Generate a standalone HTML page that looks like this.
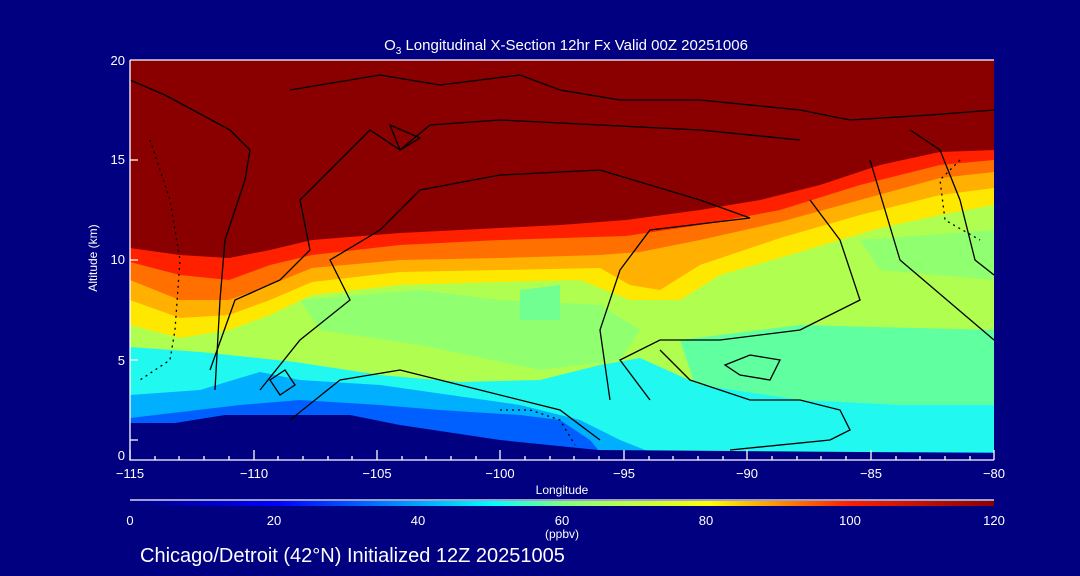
<!DOCTYPE html>
<html><head><style>
body{margin:0;background:#000080;}
svg{display:block}
text{font-family:"Liberation Sans",sans-serif;fill:#fff}
</style></head><body>
<svg width="1080" height="576" viewBox="0 0 1080 576" xmlns="http://www.w3.org/2000/svg">
<defs>
<linearGradient id="cb" x1="0" x2="1" y1="0" y2="0">
<stop offset="0" stop-color="#000080"/>
<stop offset="0.17" stop-color="#0000ff"/>
<stop offset="0.33" stop-color="#00a0ff"/>
<stop offset="0.42" stop-color="#00ffff"/>
<stop offset="0.5" stop-color="#80ff80"/>
<stop offset="0.67" stop-color="#ffff00"/>
<stop offset="0.83" stop-color="#ff2000"/>
<stop offset="1" stop-color="#8a0000"/>
</linearGradient>
<clipPath id="pc"><rect x="130" y="60" width="864" height="400"/></clipPath>
</defs>
<rect width="1080" height="576" fill="#000080"/>
<g clip-path="url(#pc)">
<rect x="130" y="60" width="864" height="400" fill="#b0ff50"/>
<path d="M300,300 L420,290 L500,300 L600,305 L640,330 L620,360 L540,370 L420,345 L320,330Z" fill="#90ff70"/>
<path d="M520,290 L560,285 L560,320 L520,320Z" fill="#70ff90"/>
<path d="M860,240 L994,230 L994,280 L880,270Z" fill="#90ff70"/>
<path d="M680,340 L800,325 L994,330 L994,410 L700,400Z" fill="#60ffa0"/>
<!-- upper band layers -->
<path d="M130,60 L994,60 L994,205 L940,215 L880,228 L800,252 L720,275 L680,300 L630,300 L580,280 L500,282 L400,285 L312,295 L270,315 L229,330 L180,338 L130,325Z" fill="#ffe800"/>
<path d="M130,60 L994,60 L994,188 L940,195 L860,215 L780,238 L700,265 L660,290 L630,285 L600,268 L500,270 L400,272 L312,282 L270,300 L229,315 L180,318 L130,300Z" fill="#ffb000"/>
<path d="M130,60 L994,60 L994,172 L940,178 L860,200 L780,222 L700,240 L640,252 L600,255 L500,258 L400,260 L312,268 L270,285 L229,300 L180,300 L130,280Z" fill="#ff7000"/>
<path d="M130,60 L994,60 L994,160 L940,165 L860,185 L780,210 L700,225 L626,236 L500,240 L400,245 L312,255 L270,265 L229,280 L180,275 L130,262Z" fill="#ff2000"/>
<path d="M130,60 L994,60 L994,150 L940,152 L880,165 L820,185 L760,200 L700,210 L626,220 L560,225 L460,230 L400,233 L312,240 L270,250 L229,258 L180,255 L130,248Z" fill="#8a0000"/>
<!-- lower layers -->
<path d="M130,347 L200,352 L295,362 L380,375 L460,382 L540,380 L600,365 L640,358 L700,385 L800,400 L900,405 L994,405 L994,460 L130,460Z" fill="#20f8f0"/>
<path d="M130,395 L200,390 L260,372 L300,380 L380,385 L450,395 L520,405 L580,420 L620,440 L650,452 L994,452 L994,460 L130,460Z" fill="#00b0ff"/>
<path d="M130,418 L240,405 L300,400 L380,405 L440,410 L520,415 L560,420 L590,440 L600,452 L600,460 L130,460Z" fill="#0060ff"/>
<path d="M130,423 L175,423 L225,415 L350,415 L400,425 L500,440 L598,450 L994,453 L994,460 L130,460Z" fill="#000080"/>
<!-- contours -->
<g fill="none" stroke="#000" stroke-width="1.3">
<path d="M130,80 L165,95 L230,130 L250,150 L245,180 L225,240 L220,300 L215,390"/>
<path d="M290,90 L380,75 L440,85 L520,75 L560,90 L620,100 L700,100 L800,110 L850,120 L930,115 L994,110"/>
<path d="M210,370 L235,300 L280,280 L310,250 L300,200 L330,170 L370,130 L400,150 L430,125 L500,120 L600,125 L700,130 L800,140"/>
<path d="M260,390 L300,340 L350,300 L330,260 L380,230 L420,190 L500,175 L600,170 L700,200 L750,218 L650,230 L620,270 L600,330 L610,400"/>
<path d="M290,420 L340,380 L400,370 L480,390 L560,410 L600,440"/>
<path d="M650,400 L620,360 L660,340 L720,340 L800,330 L860,300 L840,240 L810,200"/>
<path d="M730,450 L830,440 L850,430 L840,410 L800,400 L750,400 L690,380 L660,350"/>
<path d="M725,365 L750,355 L780,360 L770,380 L740,375Z"/>
<path d="M870,160 L900,260 L994,340"/>
<path d="M910,130 L940,150 L960,200 L975,260 L994,275"/>
<path d="M400,150 L390,125 L420,138Z"/>
<path d="M270,380 L285,370 L295,385 L280,395Z"/>
</g>
<g fill="none" stroke="#000" stroke-width="1.3" stroke-dasharray="2,4">
<path d="M150,140 L170,200 L180,260 L175,330 L170,360 L140,380"/>
<path d="M500,410 L530,410 L560,420 L575,445"/>
<path d="M960,160 L940,180 L945,220 L980,240"/>
</g>
</g>
<!-- axes -->
<g stroke="#fff" stroke-width="1.3" fill="none">
<path d="M130,60 L994,60 M130,60 L130,460 L994,460"/>
<path d="M130,460 v-10 M254,460 v-10 M377,460 v-10 M500,460 v-10 M624,460 v-10 M747,460 v-10 M871,460 v-10 M994,460 v-10"/>
<path d="M155,460 v-4 M179,460 v-4 M204,460 v-4 M229,460 v-4 M278,460 v-4 M303,460 v-4 M328,460 v-4 M352,460 v-4 M402,460 v-4 M426,460 v-4 M451,460 v-4 M476,460 v-4 M525,460 v-4 M550,460 v-4 M574,460 v-4 M599,460 v-4 M649,460 v-4 M673,460 v-4 M698,460 v-4 M723,460 v-4 M772,460 v-4 M797,460 v-4 M821,460 v-4 M846,460 v-4 M896,460 v-4 M920,460 v-4 M945,460 v-4 M970,460 v-4"/>
<path d="M130,440 h8 M130,360 h8 M130,260 h8 M130,160 h8"/>
<path d="M130,500 L994,500"/>
</g>
<rect x="130" y="501" width="864" height="5" fill="url(#cb)"/>
<g font-size="13" text-anchor="end">
<text x="125" y="460">0</text><text x="125" y="365">5</text><text x="125" y="264">10</text><text x="125" y="164">15</text><text x="125" y="65">20</text>
</g>
<g font-size="13" text-anchor="middle">
<text x="130" y="478">−115</text><text x="254" y="478">−110</text><text x="377" y="478">−105</text><text x="500" y="478">−100</text><text x="624" y="478">−95</text><text x="747" y="478">−90</text><text x="871" y="478">−85</text><text x="994" y="478">−80</text>
<text x="562" y="494" font-size="12">Longitude</text>
<text x="130" y="525">0</text><text x="274" y="525">20</text><text x="418" y="525">40</text><text x="562" y="525">60</text><text x="706" y="525">80</text><text x="850" y="525">100</text><text x="994" y="525">120</text>
<text x="562" y="538" font-size="12">(ppbv)</text>
<text x="566" y="50" font-size="15">O<tspan font-size="10" dy="4">3</tspan><tspan dy="-4"> Longitudinal X-Section 12hr  Fx Valid 00Z 20251006</tspan></text>
</g>
<text x="97" y="258" font-size="12" text-anchor="middle" transform="rotate(-90 97 258)">Altitude (km)</text>
<text x="140" y="562" font-size="20">Chicago/Detroit (42°N) Initialized 12Z 20251005</text>
</svg>
</body></html>
